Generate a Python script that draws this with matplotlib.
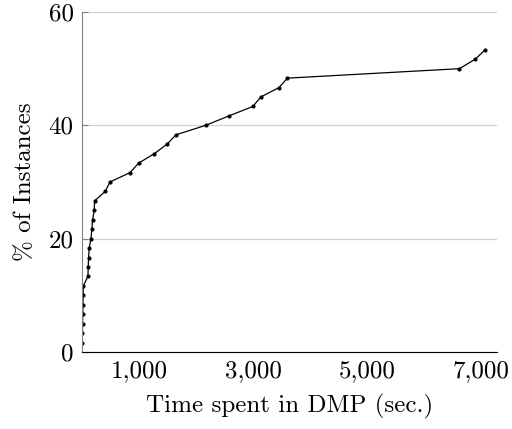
import matplotlib
matplotlib.use("Agg")
import matplotlib.pyplot as plt
import matplotlib.ticker as ticker

plt.rcParams['font.family'] = ['cmr10', 'DejaVu Serif']
plt.rcParams['axes.formatter.use_mathtext'] = True
plt.rcParams['mathtext.fontset'] = 'cm'

# time spent (sec.) vs. cumulative share of instances solved (%)
time_sec = [3, 8, 12, 15, 18, 20, 25, 105, 110, 117, 128, 158, 175, 187, 216, 222,
            409, 491, 845, 994, 1269, 1491, 1649, 2170, 2579, 2997, 3135, 3456, 3602,
            6619, 6895, 7070]
pct_inst = [1.67, 3.33, 5.00, 6.67, 8.33, 10.00, 11.67, 13.33, 15.00, 16.67, 18.33,
            20.00, 21.67, 23.33, 25.00, 26.67, 28.33, 30.00, 31.67, 33.33, 35.00,
            36.67, 38.33, 40.00, 41.67, 43.33, 45.00, 46.67, 48.33, 50.00, 51.67, 53.33]

x_ticks = [1000, 3000, 5000, 7000]
y_ticks = [0, 20, 40, 60]

fig = plt.figure(figsize=(5.12, 4.29), dpi=100)
ax = fig.add_axes([0.160, 0.1795, 0.811, 0.7925])

ax.plot(time_sec, pct_inst, color="black", linewidth=0.9, marker="o", markersize=2.0)

ax.set_xlim(0, 7280)
ax.set_ylim(0, 60)
ax.set_xticks(x_ticks)
ax.set_yticks(y_ticks)
ax.xaxis.set_major_formatter(ticker.FuncFormatter(lambda v, p: "{:,}".format(int(v))))
ax.yaxis.set_major_formatter(ticker.FuncFormatter(lambda v, p: "%d" % v))

ax.grid(axis="y", color="#d0d0d0", linewidth=0.9)
ax.set_axisbelow(True)
for s in ["top", "right"]:
    ax.spines[s].set_visible(False)
ax.spines["left"].set_color("#808080")
ax.spines["bottom"].set_color("black")
ax.tick_params(axis="x", length=0, labelsize=18, pad=6)
ax.tick_params(axis="y", direction="in", length=4, color="#808080", labelsize=18, pad=6)

ax.set_xlabel("Time spent in DMP (sec.)", fontsize=18, labelpad=8)
ax.set_ylabel("% of Instances", fontsize=18, labelpad=9)

fig.savefig("out.png", dpi=100)
